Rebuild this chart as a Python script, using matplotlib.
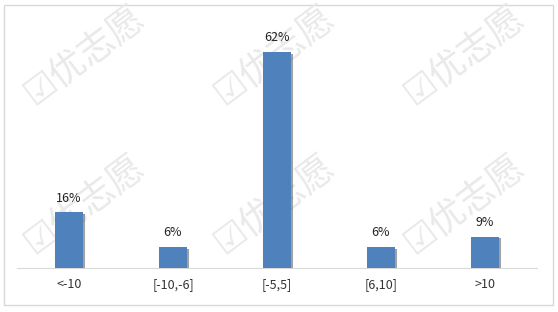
import matplotlib.pyplot as plt
import matplotlib.patheffects as pe
from matplotlib.patches import Rectangle

plt.rcParams['font.family'] = ['Noto Sans CJK SC', 'DejaVu Sans']

categories = ['<-10', '[-10,-6]', '[-5,5]', '[6,10]', '>10']
shares = [16, 6, 62, 6, 9]
labels = ['16%', '6%', '62%', '6%', '9%']

fig = plt.figure(figsize=(5.58, 3.12), dpi=100)
fig.patch.set_facecolor('white')

# background layer: border + watermark, drawn under the chart
bg = fig.add_axes([0, 0, 1, 1], zorder=0)
bg.set_xlim(0, 558)
bg.set_ylim(312, 0)
bg.axis('off')
bg.add_patch(Rectangle((4, 5), 549, 300, fill=False, edgecolor='#d9d9d9', linewidth=1))
for wx in [85, 275, 465]:
    for wy in [56, 205]:
        bg.text(wx, wy, '☑优志愿', fontsize=26, color='#e9e9e9',
                rotation=37, ha='center', va='center',
                family=['DejaVu Sans', 'Noto Sans CJK SC'])

ax = fig.add_axes([17 / 558, 44 / 312, 520 / 558, 244 / 312], zorder=1)
ax.patch.set_alpha(0)
x = range(len(categories))
bars = ax.bar(x, shares, width=0.26, color='#4f81bd', zorder=3)
for b in bars:
    b.set_path_effects([pe.SimplePatchShadow(offset=(1.8, -1.2), shadow_rgbFace='#555555', alpha=0.55),
                        pe.Normal()])
for xi, v, lab in zip(x, shares, labels):
    ax.text(xi, v + 2.2, lab, ha='center', va='bottom', fontsize=9, color='#222222')

ax.set_xlim(-0.5, len(categories) - 0.5)
ax.set_ylim(0, 70)
ax.set_xticks(list(x))
ax.set_xticklabels(categories, fontsize=9, color='#333333')
ax.tick_params(axis='x', length=0, pad=7)
ax.set_yticks([])
for s in ['top', 'right', 'left']:
    ax.spines[s].set_visible(False)
ax.spines['bottom'].set_color('#d9d9d9')

fig.savefig('out.png', dpi=100)
